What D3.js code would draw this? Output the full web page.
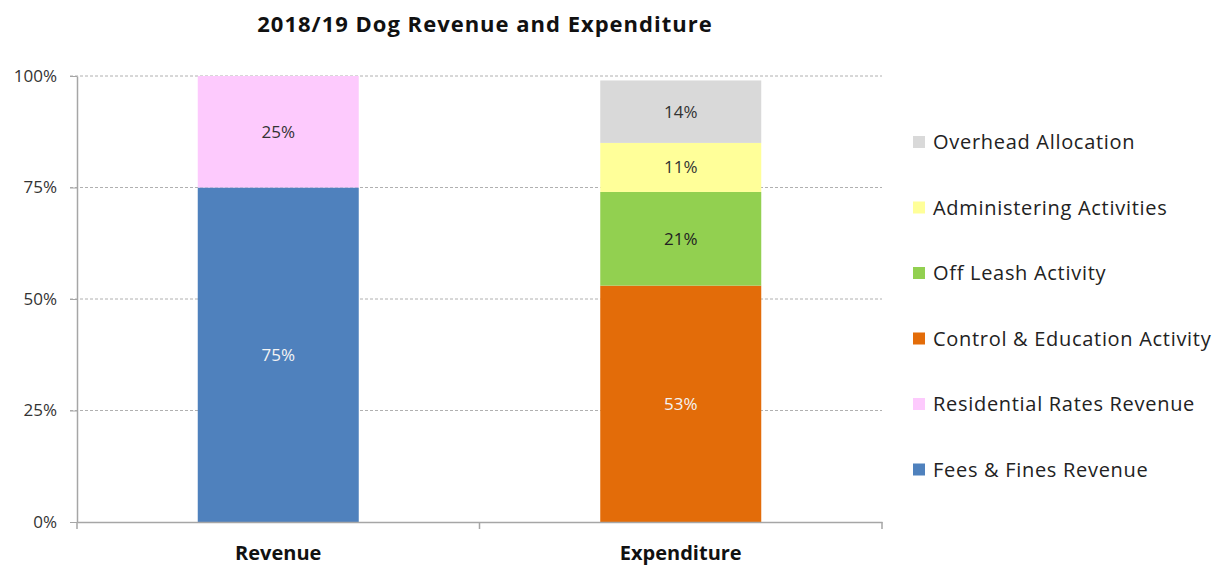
<!DOCTYPE html>
<html>
<head>
<meta charset="utf-8">
<script src="https://cdn.jsdelivr.net/npm/d3@7"></script>
<style>
  body { margin: 0; background: #fff; }
  svg text { font-family: "Open Sans", "Liberation Sans", sans-serif; }
</style>
</head>
<body>
<div id="chart"></div>
<script>
// Chart data
const categories = ["Revenue", "Expenditure"];
const seriesNames = [
  "Fees & Fines Revenue",
  "Residential Rates Revenue",
  "Control & Education Activity",
  "Off Leash Activity",
  "Administering Activities",
  "Overhead Allocation"
];
const seriesColors = ["#4F81BD", "#FDCAFD", "#E36C09", "#92D050", "#FFFF99", "#D9D9D9"];
const labelColors = ["#f4f4f4", "#333", "#f4f4f4", "#222", "#333", "#333"];
// values per series, one per category (percent)
const revenueValues = [75, 25, 0, 0, 0, 0];
const expenditureValues = [0, 0, 53, 21, 11, 14];
const yTicks = [0, 25, 50, 75, 100];

const width = 1227, height = 568;
const margin = { top: 76, left: 77, bottom: 46, right: 345 };

const svg = d3.select("#chart").append("svg")
  .attr("width", width)
  .attr("height", height);

const x = d3.scaleBand()
  .domain(categories)
  .range([margin.left, width - margin.right])
  .paddingInner(0.6)
  .paddingOuter(0.3);

const y = d3.scaleLinear()
  .domain([0, 100])
  .range([height - margin.bottom, margin.top]);

// Title
svg.append("text")
  .attr("x", 485)
  .attr("y", 32)
  .attr("text-anchor", "middle")
  .style("font-size", "22px")
  .style("font-weight", "bold")
  .style("letter-spacing", "1px")
  .attr("fill", "#111")
  .text("2018/19 Dog Revenue and Expenditure");

// Gridlines
svg.append("g")
  .selectAll("line")
  .data(yTicks.filter(d => d > 0))
  .join("line")
  .attr("x1", margin.left - 7)
  .attr("x2", width - margin.right)
  .attr("y1", d => y(d))
  .attr("y2", d => y(d))
  .attr("stroke", "#b0b0b0")
  .attr("stroke-width", 1)
  .attr("stroke-dasharray", "3,2");

// Stacked data
const table = categories.map((c, i) => {
  const row = { category: c };
  seriesNames.forEach((s, j) => {
    row[s] = (i === 0 ? revenueValues : expenditureValues)[j];
  });
  return row;
});
const stacked = d3.stack().keys(seriesNames)(table);

const layers = svg.append("g")
  .selectAll("g")
  .data(stacked)
  .join("g")
  .attr("fill", (d, i) => seriesColors[i]);

layers.selectAll("rect")
  .data(d => d.filter(p => p[1] - p[0] > 0))
  .join("rect")
  .attr("x", d => x(d.data.category))
  .attr("width", x.bandwidth())
  .attr("y", d => y(d[1]))
  .attr("height", d => y(d[0]) - y(d[1]));

// Data labels
stacked.forEach((layer, i) => {
  svg.append("g")
    .selectAll("text")
    .data(layer.filter(p => p[1] - p[0] > 0))
    .join("text")
    .attr("x", d => x(d.data.category) + x.bandwidth() / 2)
    .attr("y", d => (y(d[0]) + y(d[1])) / 2)
    .attr("dy", "0.35em")
    .attr("text-anchor", "middle")
    .style("font-size", "17px")
    .attr("fill", labelColors[i])
    .text(d => (d[1] - d[0]) + "%");
});

// Y axis
const yAxis = svg.append("g")
  .attr("transform", `translate(${margin.left},0)`)
  .call(d3.axisLeft(y).tickValues(yTicks).tickFormat(d => d + "%").tickSize(7).tickSizeOuter(0));
yAxis.select(".domain").attr("stroke", "#a6a6a6").attr("stroke-width", 1.5);
yAxis.selectAll(".tick line").attr("stroke", "#a6a6a6");
yAxis.selectAll(".tick text")
  .attr("x", -20)
  .attr("fill", "#333")
  .style("font-size", "17px")
  .style("font-family", "'Open Sans', sans-serif");

// X axis
const xAxis = svg.append("g")
  .attr("transform", `translate(0,${height - margin.bottom})`)
  .call(d3.axisBottom(x).tickSize(0).tickSizeOuter(0));
xAxis.select(".domain").attr("stroke", "#a6a6a6").attr("stroke-width", 1.5);
xAxis.selectAll(".tick text")
  .attr("y", 24)
  .attr("fill", "#111")
  .style("font-size", "20px")
  .style("font-weight", "bold")
  .style("font-family", "'Open Sans', sans-serif");

// category separator ticks
const sepX = [margin.left, x.step() * 0.3 + margin.left + x.step() * 0.7, width - margin.right];
svg.append("g")
  .selectAll("line")
  .data(sepX)
  .join("line")
  .attr("x1", d => d)
  .attr("x2", d => d)
  .attr("y1", height - margin.bottom)
  .attr("y2", height - margin.bottom + 7)
  .attr("stroke", "#a6a6a6")
  .attr("stroke-width", 1.5);

// Legend (reversed order, top to bottom)
const legendItems = seriesNames.map((s, i) => ({ name: s, color: seriesColors[i] })).reverse();
const legend = svg.append("g")
  .selectAll("g")
  .data(legendItems)
  .join("g")
  .attr("transform", (d, i) => `translate(913,${142 + i * 65.5})`);

legend.append("rect")
  .attr("x", 0)
  .attr("y", -6)
  .attr("width", 12)
  .attr("height", 12)
  .attr("fill", d => d.color);

legend.append("text")
  .attr("x", 20)
  .attr("dy", "0.35em")
  .style("font-size", "20px")
  .style("letter-spacing", "0.7px")
  .attr("fill", "#222")
  .text(d => d.name);
</script>
</body>
</html>
